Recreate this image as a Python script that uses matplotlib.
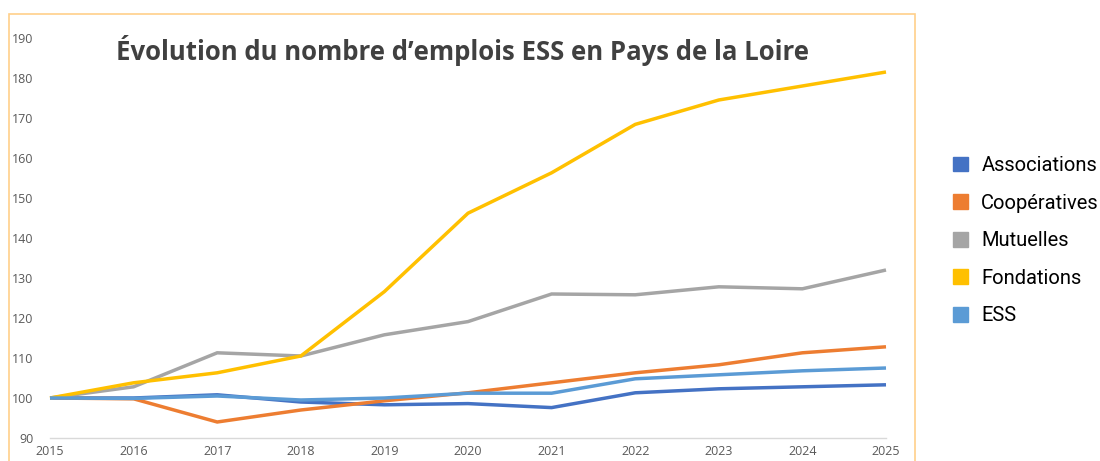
import matplotlib.pyplot as plt
from matplotlib.patches import Rectangle, Patch

years = [2015, 2016, 2017, 2018, 2019, 2020, 2021, 2022, 2023, 2024, 2025]

associations = [100, 100, 100.8, 99.0, 98.3, 98.6, 97.6, 101.3, 102.3, 102.8, 103.3]
cooperatives = [100, 99.8, 94.0, 97.0, 99.3, 101.3, 103.8, 106.3, 108.3, 111.3, 112.8]
mutuelles = [100, 102.8, 111.3, 110.5, 115.8, 119.1, 126.0, 125.8, 127.8, 127.3, 132.0]
fondations = [100, 103.8, 106.3, 110.5, 126.6, 146.2, 156.3, 168.4, 174.5, 178.0, 181.5]
ess = [100, 99.9, 100.5, 99.5, 100.0, 101.2, 101.2, 104.8, 105.8, 106.8, 107.5]

series_names = ['Associations', 'Coopératives', 'Mutuelles', 'Fondations', 'ESS']
colors = ['#4472C4', '#ED7D31', '#A5A5A5', '#FFC000', '#5B9BD5']

fig = plt.figure(figsize=(11, 4.61), dpi=100)
ax = fig.add_axes([50/1100, 1 - 438/461, (886 - 50)/1100, 400/461])

for vals, c in zip([associations, cooperatives, mutuelles, fondations, ess], colors):
    ax.plot(years, vals, color=c, lw=2.5, solid_capstyle='butt', solid_joinstyle='miter', clip_on=False)

ax.set_xlim(2015, 2025)
ax.set_ylim(90, 190)
ax.set_xticks(years)
ax.set_yticks(range(90, 191, 10))
for s in ['top', 'right', 'left']:
    ax.spines[s].set_visible(False)
ax.spines['bottom'].set_color('#D9D9D9')
ax.spines['bottom'].set_linewidth(1)
ax.tick_params(length=0, colors='#595959', labelsize=9)
ax.tick_params(axis='x', pad=5)
ax.tick_params(axis='y', pad=12)
for lab in ax.get_xticklabels() + ax.get_yticklabels():
    lab.set_fontfamily('Open Sans')

# chart frame
fig.patches.append(Rectangle((9/1100, -0.05), (915 - 9)/1100, 1.05 - 14/461,
                             transform=fig.transFigure, fill=False,
                             edgecolor='#FFD08A', lw=1.2))

fig.text(462/1100, 1 - 50/461, 'Évolution du nombre d’emplois ESS en Pays de la Loire',
         ha='center', va='center', fontsize=18.5, fontweight='bold',
         color='#404040', family='Open Sans')

handles = [Patch(facecolor=c, edgecolor=c) for c in colors]
fig.legend(handles, series_names, loc='upper left', bbox_to_anchor=(935/1100, 1 - 138/461),
           frameon=False, handlelength=0.75, handleheight=0.75,
           handletextpad=0.65, labelspacing=0.92, prop={'family': 'Roboto', 'size': 14.5})

fig.savefig('out.png', dpi=100)
